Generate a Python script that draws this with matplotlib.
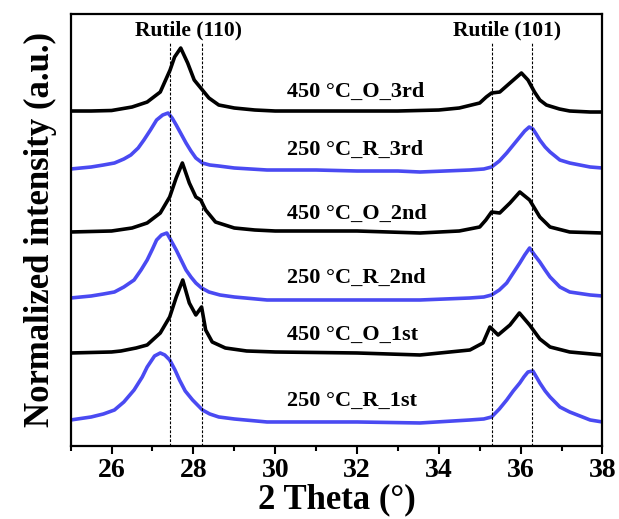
import matplotlib
matplotlib.use("Agg")
import matplotlib.pyplot as plt
from matplotlib.ticker import MultipleLocator

plt.rcParams['font.family'] = ['Liberation Serif', 'DejaVu Serif']
plt.rcParams['font.weight'] = 'bold'

# ---- data (stacked, normalized intensity in a.u.) ----
x_O3 = [25.0, 25.5, 26.0, 26.5, 26.87, 27.19, 27.43, 27.54, 27.69, 27.86, 28.02, 28.18, 28.3, 28.38, 28.62, 29.0, 29.5, 30, 31, 32, 33, 34, 34.5, 35.0, 35.16, 35.29, 35.49, 35.74, 36.02, 36.18, 36.34, 36.47, 36.63, 36.95, 37.2, 37.7, 38]
y_O3 = [111, 111, 110.5, 107, 102, 92, 70, 57, 48, 63, 80, 88, 94, 98, 105, 108, 110, 111, 111, 111, 111, 110, 108, 103, 97, 93, 92, 83, 73, 80, 92, 100, 105, 109, 111, 112, 112]

x_R3 = [25.0, 25.5, 25.8, 26.07, 26.3, 26.47, 26.65, 26.79, 26.95, 27.1, 27.25, 27.38, 27.48, 27.58, 27.7, 27.82, 27.94, 28.06, 28.22, 28.4, 28.62, 29.0, 29.8, 31, 32, 33, 33.54, 34.76, 35.1, 35.29, 35.48, 35.66, 35.82, 35.98, 36.1, 36.21, 36.3, 36.38, 36.47, 36.6, 36.72, 36.96, 37.2, 37.7, 38]
y_R3 = [169, 167, 165, 163, 159, 155, 148, 140, 130, 120, 115, 113, 118, 125, 134, 143, 151, 158, 163, 165, 166, 168, 170, 170, 171, 171, 172, 170, 169, 167, 161, 153, 145, 137, 131, 127, 129, 134, 140, 147, 152, 160, 163, 167, 168]

x_O2 = [25, 26, 26.5, 26.87, 27.19, 27.42, 27.58, 27.73, 27.9, 28.06, 28.18, 28.3, 28.54, 29.0, 29.5, 30, 32, 33.54, 34.5, 35.0, 35.15, 35.29, 35.49, 35.74, 35.98, 36.22, 36.47, 36.72, 37.2, 38]
y_O2 = [232, 231, 228, 223, 213, 197, 178, 163, 183, 197, 200, 210, 222, 228, 230, 231, 231, 233, 231, 227, 220, 212, 213, 203, 192, 200, 217, 227, 232, 233]

x_R2 = [25.0, 25.5, 25.8, 26.07, 26.3, 26.55, 26.72, 26.87, 27.0, 27.1, 27.22, 27.35, 27.46, 27.58, 27.7, 27.82, 27.94, 28.06, 28.2, 28.38, 28.65, 29.0, 29.8, 31, 32, 33.54, 34.76, 35.1, 35.29, 35.48, 35.66, 35.82, 35.98, 36.1, 36.22, 36.34, 36.47, 36.6, 36.72, 36.96, 37.2, 37.7, 38]
y_R2 = [298, 296, 294, 292, 287, 280, 270, 260, 249, 240, 235, 233, 241, 250, 260, 270, 277, 283, 288, 292, 295, 297, 300, 300, 300, 300, 298, 297, 295, 290, 283, 273, 263, 255, 248, 255, 262, 270, 277, 287, 292, 295, 296]

x_O1 = [25, 26, 26.23, 26.6, 26.87, 27.19, 27.42, 27.58, 27.74, 27.9, 28.06, 28.2, 28.3, 28.46, 28.78, 29.3, 30, 32, 33.54, 34.76, 35.08, 35.25, 35.45, 35.74, 35.97, 36.22, 36.47, 36.72, 37.2, 38]
y_O1 = [353, 352, 351, 348, 345, 333, 317, 297, 280, 303, 315, 307, 330, 342, 348, 351, 352, 353, 355, 350, 343, 327, 335, 325, 313, 325, 339, 347, 352, 355]

x_R1 = [25.0, 25.5, 25.8, 26.07, 26.3, 26.55, 26.75, 26.87, 27.05, 27.19, 27.3, 27.42, 27.55, 27.66, 27.8, 27.98, 28.22, 28.4, 28.62, 29.0, 29.8, 31, 32, 33.54, 34.76, 35.1, 35.29, 35.48, 35.66, 35.82, 35.98, 36.08, 36.18, 36.3, 36.4, 36.47, 36.6, 36.72, 36.96, 37.2, 37.7, 38]
y_R1 = [420, 417, 414, 410, 402, 390, 377, 367, 356, 353, 355, 360, 370, 380, 391, 400, 410, 414, 417, 419, 422, 422, 422, 423, 420, 419, 417, 409, 400, 391, 383, 377, 372, 371, 378, 383, 391, 397, 407, 412, 420, 422]

labels = ["450 °C_O_3rd", "250 °C_R_3rd", "450 °C_O_2nd", "250 °C_R_2nd", "450 °C_O_1st", "250 °C_R_1st"]
label_y = [91.7, 150, 214, 278, 335, 400.7]
ref_lines = [27.44, 28.22, 35.29, 36.28]
ref_names = ["Rutile (110)", "Rutile (101)"]
ref_name_x = [27.87, 35.66]
xticks = [26, 28, 30, 32, 34, 36, 38]

TOP = 446.0  # transforms pixel-read values to upward intensity
BLACK = "#000000"
BLUE = "#4a4af2"

series = [(x_O3, y_O3, BLACK), (x_R3, y_R3, BLUE), (x_O2, y_O2, BLACK),
          (x_R2, y_R2, BLUE), (x_O1, y_O1, BLACK), (x_R1, y_R1, BLUE)]

fig = plt.figure(figsize=(6.19, 5.19), dpi=100)
ax = fig.add_axes([0.1142, 0.1407, 0.8590, 0.8323])

for xs, ys, c in series:
    ax.plot(xs, [TOP - v for v in ys], color=c, lw=2.6, solid_joinstyle='round')

for xv in ref_lines:
    ax.plot([xv, xv], [0, TOP - 43], color='black', lw=0.8, ls=(0, (2.5, 1.5)))

for name, xv in zip(ref_names, ref_name_x):
    ax.text(xv, TOP - 30, name, ha='center', va='center', fontsize=15.5, fontweight='bold')

for lab, yv in zip(labels, label_y):
    ax.text(30.3, TOP - yv, lab, ha='left', va='center', fontsize=16, fontweight='bold')

ax.set_xlim(25, 38)
ax.set_ylim(0, 432)
ax.set_xticks(xticks)
ax.xaxis.set_minor_locator(MultipleLocator(1))
ax.set_yticks([])
ax.tick_params(axis='x', which='major', direction='out', length=6, width=1.5, labelsize=20, pad=3)
ax.tick_params(axis='x', which='minor', direction='out', length=3.5, width=1.5)
for lbl in ax.get_xticklabels():
    lbl.set_fontweight('bold')
for sp in ax.spines.values():
    sp.set_linewidth(1.6)

ax.set_xlabel("2 Theta (°)", fontsize=25, fontweight='bold', labelpad=0)
ax.set_ylabel("Normalized intensity (a.u.)", fontsize=25, fontweight='bold', labelpad=10)

fig.savefig("out.png", dpi=100)
